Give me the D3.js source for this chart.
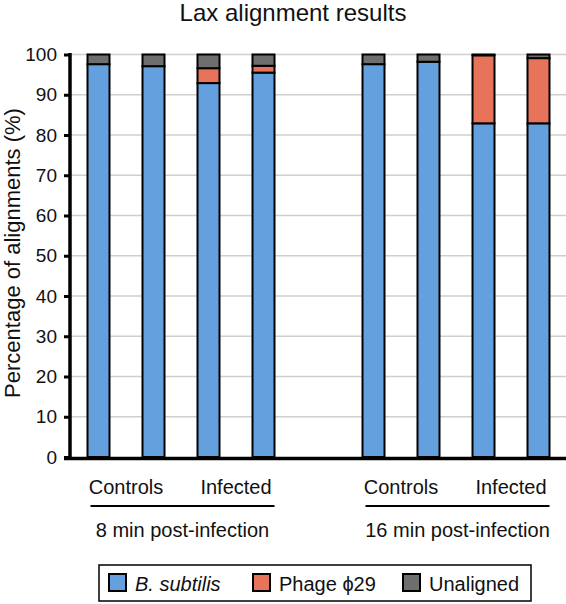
<!DOCTYPE html>
<html><head><meta charset="utf-8">
<script src="https://cdn.jsdelivr.net/npm/d3@7"></script>
<style>body{margin:0;background:#fff}svg{display:block}text{font-family:"Liberation Sans",Arial,sans-serif;fill:#111}</style>
</head><body>
<svg id="c" width="566" height="604"></svg>
<script>
const categories = ["8C1","8C2","8I1","8I2","16C1","16C2","16I1","16I2"];
const slots = ["8C1","8C2","8I1","8I2","gap","16C1","16C2","16I1","16I2"];
const bSubtilis = [97.6, 97.1, 92.9, 95.5, 97.6, 98.2, 82.9, 82.9];
const phage =     [0,    0,    3.7,  1.7,  0,    0,    16.9, 16.2];
const unaligned = [2.4,  2.9,  3.4,  2.8,  2.4,  1.8,  0.2,  0.9];
const seriesNames = ["B. subtilis", "Phage \u03D529", "Unaligned"];
const seriesColors = ["#649fde", "#e6735a", "#6e6e6e"];
const yTicks = [0,10,20,30,40,50,60,70,80,90,100];
const subGroups = [{label:"Controls", keys:["8C1","8C2"]},{label:"Infected", keys:["8I1","8I2"]},
                   {label:"Controls", keys:["16C1","16C2"]},{label:"Infected", keys:["16I1","16I2"]}];
const groups = [{label:"8 min post-infection", keys:["8C1","8I2"]},{label:"16 min post-infection", keys:["16C1","16I2"]}];
const title = "Lax alignment results";
const yLabel = "Percentage of alignments (%)";

const svg = d3.select("#c");
const x = d3.scaleBand().domain(slots).range([71,566]).paddingInner(0.6).paddingOuter(0.3);
const y = d3.scaleLinear().domain([0,100]).range([457,54.5]);

// title
svg.append("text").attr("x",293).attr("y",21).attr("text-anchor","middle").attr("font-size",24).text(title);
// y label
svg.append("text").attr("transform","translate(20,253) rotate(-90)").attr("text-anchor","middle").attr("font-size",22).text(yLabel);

// gridlines
svg.append("g").selectAll("line").data(yTicks.filter(t=>t>0)).join("line")
  .attr("x1",71).attr("x2",566).attr("y1",d=>y(d)).attr("y2",d=>y(d))
  .attr("stroke","#cfcfcf").attr("stroke-width",1.5);

// stacked bars
const rows = categories.map((c,i)=>({key:c, s0:bSubtilis[i], s1:phage[i], s2:unaligned[i]}));
const stack = d3.stack().keys(["s0","s1","s2"])(rows);
stack.forEach((layer,li)=>{
  svg.append("g").selectAll("rect").data(layer.filter(d=>d[1]-d[0]>0)).join("rect")
    .attr("x",d=>x(d.data.key)).attr("width",x.bandwidth())
    .attr("y",d=>y(d[1])).attr("height",d=>y(d[0])-y(d[1]))
    .attr("fill",seriesColors[li]).attr("stroke","#000").attr("stroke-width",2);
});

// y axis
const yAxis = d3.axisLeft(y).tickValues(yTicks).tickSize(7).tickPadding(6);
const ga = svg.append("g").attr("transform","translate(71,0)").call(yAxis);
ga.select(".domain").remove();
ga.selectAll("line").attr("stroke","#000").attr("stroke-width",3);
ga.selectAll("text").attr("font-size",19).attr("font-family","Liberation Sans, Arial, sans-serif").attr("fill","#111").attr("dx",-1);
svg.append("line").attr("x1",70).attr("x2",70).attr("y1",53).attr("y2",460).attr("stroke","#000").attr("stroke-width",3.5);
svg.append("line").attr("x1",64).attr("x2",566).attr("y1",y(0)+1.5).attr("y2",y(0)+1.5).attr("stroke","#000").attr("stroke-width",3.5);

// category labels
const cx = k => x(k) + x.bandwidth()/2;
subGroups.forEach(g=>{
  svg.append("text").attr("x",(cx(g.keys[0])+cx(g.keys[1]))/2).attr("y",494).attr("text-anchor","middle").attr("font-size",20).text(g.label);
});
groups.forEach(g=>{
  const a = x(g.keys[0]) + 3, b = x(g.keys[1]) + x.bandwidth();
  svg.append("line").attr("x1",a).attr("x2",b).attr("y1",506).attr("y2",506).attr("stroke","#000").attr("stroke-width",2);
  svg.append("text").attr("x",(a+b)/2).attr("y",537).attr("text-anchor","middle").attr("font-size",20).text(g.label);
});

// legend
svg.append("rect").attr("x",99).attr("y",565).attr("width",432).attr("height",36).attr("fill","#fff").attr("stroke","#000").attr("stroke-width",1.5);
const legX = [109, 253, 403];
seriesNames.forEach((n,i)=>{
  svg.append("rect").attr("x",legX[i]).attr("y",574).attr("width",17).attr("height",17)
    .attr("fill",seriesColors[i]).attr("stroke","#000").attr("stroke-width",2);
  const t = svg.append("text").attr("x",legX[i]+26).attr("y",591).attr("font-size",20).text(n);
  if(i===0) t.attr("font-style","italic");
});
</script>
</body></html>
